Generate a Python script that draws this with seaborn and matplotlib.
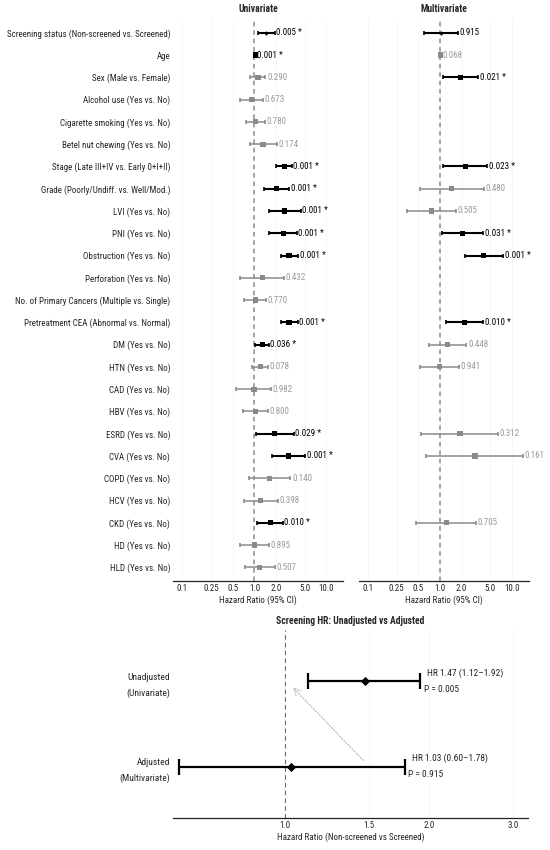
import matplotlib
matplotlib.use("Agg")
import numpy as np
import pandas as pd
import matplotlib.pyplot as plt
import seaborn as sns
from matplotlib import font_manager

# rows of the forest plot (top to bottom)
labels = [
    "Screening status (Non-screened vs. Screened)",
    "Age",
    "Sex (Male vs. Female)",
    "Alcohol use (Yes vs. No)",
    "Cigarette smoking (Yes vs. No)",
    "Betel nut chewing (Yes vs. No)",
    "Stage (Late III+IV vs. Early 0+I+II)",
    "Grade (Poorly/Undiff. vs. Well/Mod.)",
    "LVI (Yes vs. No)",
    "PNI (Yes vs. No)",
    "Obstruction (Yes vs. No)",
    "Perforation (Yes vs. No)",
    "No. of Primary Cancers (Multiple vs. Single)",
    "Pretreatment CEA (Abnormal vs. Normal)",
    "DM (Yes vs. No)",
    "HTN (Yes vs. No)",
    "CAD (Yes vs. No)",
    "HBV (Yes vs. No)",
    "ESRD (Yes vs. No)",
    "CVA (Yes vs. No)",
    "COPD (Yes vs. No)",
    "HCV (Yes vs. No)",
    "CKD (Yes vs. No)",
    "HD (Yes vs. No)",
    "HLD (Yes vs. No)",
]

# univariate Cox results
uni_hr = [1.47, 1.03, 1.12, 0.90, 1.03, 1.32, 2.59, 2.01, 2.59, 2.51, 3.03, 1.31, 1.04,
          3.03, 1.29, 1.20, 0.99, 1.03, 1.91, 3.00, 1.60, 1.23, 1.67, 1.00, 1.19]
uni_lo = [1.12, 1.02, 0.87, 0.63, 0.76, 0.86, 2.01, 1.38, 1.58, 1.58, 2.31, 0.64, 0.72,
          2.31, 1.01, 0.94, 0.55, 0.70, 1.06, 1.74, 0.83, 0.72, 1.10, 0.64, 0.73]
uni_hi = [1.92, 1.04, 1.42, 1.32, 1.39, 2.05, 3.30, 3.03, 4.38, 3.85, 4.07, 2.54, 1.45,
          3.98, 1.58, 1.53, 1.70, 1.52, 3.51, 5.08, 3.16, 2.12, 2.48, 1.58, 1.93]
uni_p = ["0.005", "0.001", "0.290", "0.673", "0.780", "0.174", "0.001", "0.001", "0.001",
         "0.001", "0.001", "0.432", "0.770", "0.001", "0.036", "0.078", "0.982", "0.800",
         "0.029", "0.001", "0.140", "0.398", "0.010", "0.895", "0.507"]

# multivariate Cox results (nan = not in model)
nan = np.nan
multi_hr = [1.03, 1.01, 1.94, nan, nan, nan, 2.27, 1.46, 0.77, 2.07, 4.08, nan, nan,
            2.22, 1.27, 0.99, nan, nan, 1.90, 3.07, nan, nan, 1.22, nan, nan]
multi_lo = [0.60, 1.00, 1.11, nan, nan, nan, 1.12, 0.53, 0.35, 1.07, 2.22, nan, nan,
            1.23, 0.70, 0.53, nan, nan, 0.55, 0.65, nan, nan, 0.47, nan, nan]
multi_hi = [1.78, 1.02, 3.42, nan, nan, nan, 4.54, 4.05, 1.69, 3.96, 7.60, nan, nan,
            3.96, 2.34, 1.86, nan, nan, 6.43, 14.3, nan, nan, 3.14, nan, nan]
multi_p = ["0.915", "0.068", "0.021", "", "", "", "0.023", "0.480", "0.505", "0.031",
           "0.001", "", "", "0.010", "0.448", "0.941", "", "", "0.312", "0.161", "",
           "", "0.705", "", ""]

# screening HR comparison
scr_models = ["Unadjusted\n(Univariate)", "Adjusted\n(Multivariate)"]
scr_hr = [1.47, 1.03]
scr_lo = [1.12, 0.60]
scr_hi = [1.92, 1.78]
scr_p = ["0.005", "0.915"]

top_ticks = [0.1, 0.25, 0.5, 1.0, 2.0, 5.0, 10.0]
top_ticklabels = ["0.1", "0.25", "0.5", "1.0", "2.0", "5.0", "10.0"]
bot_ticks = [1.0, 1.5, 2.0, 3.0]

sns.set_theme(style="white")

# the reference uses a narrow sans; look for any condensed face installed
ttf = font_manager.fontManager.ttflist
prefer = ["Liberation Sans Narrow", "Arial Narrow", "Roboto Condensed", "Open Sans Condensed",
          "Noto Sans", "Open Sans", "Roboto", "DejaVu Sans"]
narrow_faces = [f for f in ttf if f.stretch in ("condensed", "semi-condensed", "extra-condensed")
                or "Narrow" in f.name or "Condensed" in f.name]
family = None
for name in prefer:
    if any(f.name == name for f in narrow_faces):
        family = name
        break
if family is None and narrow_faces:
    family = narrow_faces[0].name

if family is not None:
    plt.rcParams["font.family"] = [family, "DejaVu Sans"]
    plt.rcParams["font.stretch"] = "condensed"
    fs = 6.5
else:
    plt.rcParams["font.family"] = ["Liberation Sans", "DejaVu Sans"]
    fs = 5.4

BLACK = "#000000"
GRAY_LINE = "#8a8a8a"
GRAY_TEXT = "#9a9a9a"


def forest(ax, hr, lo, hi, pv, title, show_labels):
    df = pd.DataFrame({"row": np.arange(len(labels)), "hr": hr, "lo": lo, "hi": hi, "p": pv})
    df = df.dropna()
    df["sig"] = df["p"].astype(float) < 0.05
    df["grp"] = np.where(df["sig"] | (df["row"] == 0), "black", "gray")

    ax.axvline(1.0, color="#8c8c8c", ls=(0, (3, 2.5)), lw=1.1, zorder=1)
    for _, r in df.iterrows():
        dark = r["grp"] == "black"
        ax.errorbar(r["hr"], r["row"], xerr=[[r["hr"] - r["lo"]], [r["hi"] - r["hr"]]],
                    fmt="none", ecolor=BLACK if dark else GRAY_LINE,
                    elinewidth=1.5 if dark else 1.1, capsize=1.7, capthick=1.2, zorder=2)
        txt = r["p"] + (" *" if r["sig"] else "")
        ax.annotate(txt, xy=(r["hi"], r["row"]), xytext=(1.2, 0), textcoords="offset points",
                    va="center", ha="left", fontsize=fs,
                    color=BLACK if dark else GRAY_TEXT)

    rest = df[df["row"] > 0]
    sns.scatterplot(data=rest, x="hr", y="row", hue="grp", palette={"black": BLACK, "gray": GRAY_LINE},
                    marker="s", s=14, linewidth=0, legend=False, ax=ax, zorder=3)
    first = df[df["row"] == 0]
    sns.scatterplot(data=first, x="hr", y="row", color=BLACK, marker="D", s=5,
                    linewidth=0, legend=False, ax=ax, zorder=3)

    ax.set_xscale("log")
    ax.set_xlim(0.074, 17)
    ax.set_xticks(top_ticks)
    ax.set_xticklabels(top_ticklabels)
    ax.xaxis.set_minor_locator(matplotlib.ticker.NullLocator())
    ax.set_ylim(len(labels) - 0.4, -0.6)
    ax.set_yticks(range(len(labels)))
    ax.set_yticklabels(labels if show_labels else [])
    ax.tick_params(axis="y", length=0, pad=2, labelsize=fs)
    ax.tick_params(axis="x", length=0, pad=2.5, labelsize=fs)
    ax.grid(axis="x", color="#f6f6f6", lw=0.6)
    for s in ["top", "right", "left"]:
        ax.spines[s].set_visible(False)
    ax.spines["bottom"].set_color("#222222")
    ax.spines["bottom"].set_linewidth(0.9)
    ax.set_xlabel("Hazard Ratio (95% CI)", fontsize=fs, labelpad=1.5)
    ax.set_ylabel("")
    ax.set_title(title, fontsize=fs + 0.4, fontweight="bold", pad=5)


fig = plt.figure(figsize=(5.5, 8.5), dpi=100)
W, H = 550, 850
ax_u = fig.add_axes([173 / W, 1 - 580.7 / H, 170 / W, (580.7 - 19.4) / H])
ax_m = fig.add_axes([358.5 / W, 1 - 580.7 / H, 170 / W, (580.7 - 19.4) / H])
ax_b = fig.add_axes([173 / W, 1 - 817.7 / H, 355 / W, (817.7 - 630) / H])

forest(ax_u, uni_hr, uni_lo, uni_hi, uni_p, "Univariate", True)
forest(ax_m, multi_hr, multi_lo, multi_hi, multi_p, "Multivariate", False)

# bottom comparison panel
ypos = [1, 0]
bdf = pd.DataFrame({"model": scr_models, "hr": scr_hr, "lo": scr_lo, "hi": scr_hi, "y": ypos})
ax_b.axvline(1.0, color="#666666", ls=(0, (4, 3)), lw=0.8, zorder=1)
for _, r in bdf.iterrows():
    ax_b.errorbar(r["hr"], r["y"], xerr=[[r["hr"] - r["lo"]], [r["hi"] - r["hr"]]],
                  fmt="none", ecolor=BLACK, elinewidth=1.6, capsize=5.5, capthick=1.6, zorder=2)
sns.scatterplot(data=bdf, x="hr", y="y", color=BLACK, marker="D", s=22, linewidth=0,
                legend=False, ax=ax_b, zorder=3)
for i in range(len(scr_models)):
    ax_b.annotate(f"HR {scr_hr[i]:.2f} ({scr_lo[i]:.2f}\u2013{scr_hi[i]:.2f})",
                  xy=(scr_hi[i], ypos[i] + 0.095), xytext=(5, 0), textcoords="offset points",
                  va="center", ha="left", fontsize=fs + 0.3)
    ax_b.annotate(f"P = {scr_p[i]}", xy=(scr_hi[i], ypos[i] - 0.095), xytext=(2.5, 0),
                  textcoords="offset points", va="center", ha="left", fontsize=fs + 0.3)
ax_b.annotate("", xy=(scr_hr[1], 0.95), xytext=(scr_hr[0], 0.05),
              arrowprops=dict(arrowstyle="->", color="#b0b0b0", linestyle=":", lw=0.8))

ax_b.set_xscale("log")
ax_b.set_xlim(0.584, 3.22)
ax_b.set_xticks(bot_ticks)
ax_b.set_xticklabels([f"{t:.1f}" for t in bot_ticks])
ax_b.xaxis.set_minor_locator(matplotlib.ticker.NullLocator())
ax_b.set_ylim(-0.6, 1.6)
ax_b.set_yticks(ypos)
ax_b.set_yticklabels(scr_models, linespacing=1.8)
ax_b.tick_params(axis="y", length=0, pad=2, labelsize=fs + 0.3)
ax_b.tick_params(axis="x", length=0, pad=2.5, labelsize=fs)
ax_b.grid(axis="x", color="#f6f6f6", lw=0.6)
for s in ["top", "right", "left"]:
    ax_b.spines[s].set_visible(False)
ax_b.spines["bottom"].set_color("#222222")
ax_b.spines["bottom"].set_linewidth(0.9)
ax_b.set_xlabel("Hazard Ratio (Non-screened vs Screened)", fontsize=fs, labelpad=1.5)
ax_b.set_ylabel("")
ax_b.set_title("Screening HR: Unadjusted vs Adjusted", fontsize=fs + 0.4, fontweight="bold", pad=4)

fig.savefig("out.png", dpi=100)
